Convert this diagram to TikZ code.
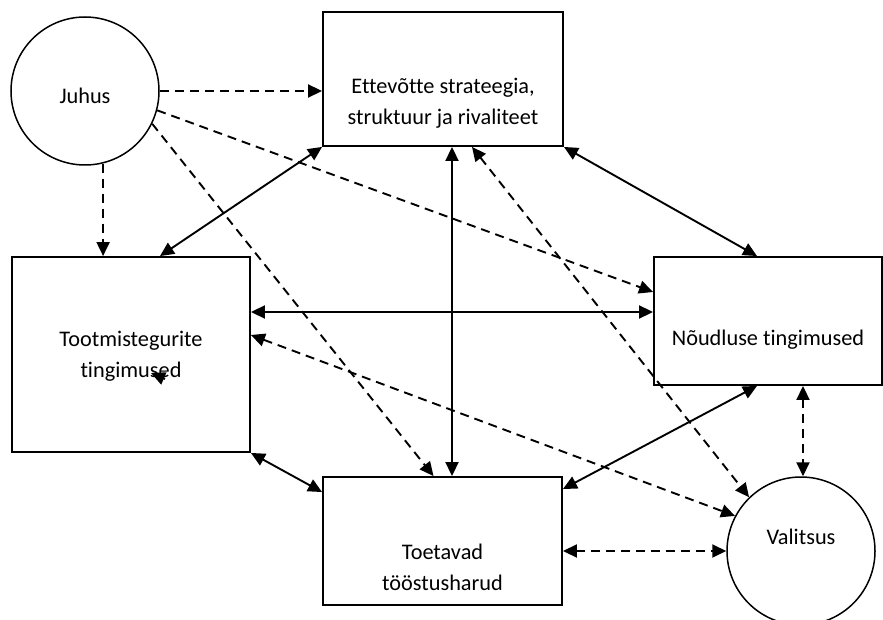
\documentclass[tikz,border=0pt]{standalone}
\usepackage{fontspec}
\setmainfont{Carlito}[Ligatures=NoCommon]
\usetikzlibrary{positioning, calc, arrows.meta}
\tikzset{factor/.style={draw, rectangle, line width=1.9pt, inner sep=0pt}}
\tikzset{force/.style={draw, circle, line width=1.5pt, minimum size=148pt, inner sep=0pt}}
\tikzset{lbl/.style={align=center, inner sep=0pt, font=\fontsize{22.3}{31}\selectfont}}
\tikzstyle{link}=[line width=1.9pt, {Triangle[length=14pt,width=13pt]}-{Triangle[length=14pt,width=13pt]}]
\tikzstyle{oneway}=[line width=1.9pt, -{Triangle[length=14pt,width=13pt]}]
\tikzstyle{chance}=[dash pattern=on 9pt off 6pt]

\begin{document}
\begin{tikzpicture}[x=1pt, y=-1pt]
  \useasboundingbox (0,0) rectangle (883,620);

  \node[factor, minimum width=240pt, minimum height=134pt] (ett)   at (443,79)    {};
  \node[factor, minimum width=238pt, minimum height=195pt] (tootm) at (131,354.5) {};
  \node[factor, minimum width=228pt, minimum height=128pt] (noud)  at (768,321)   {};
  \node[factor, minimum width=239pt, minimum height=128pt] (toet)  at (442.5,541) {};
  \node[force] (juhus) at (85,91)   {};
  \node[force] (valit) at (801,551) {};

  \node[lbl] (ettTxt)   at (443,103)   {Ettevõtte strateegia,\\struktuur ja rivaliteet};
  \node[lbl] (tootmTxt) at (131,356)   {Tootmistegurite\\tingimused};
  \node[lbl] (noudTxt)  at (768,340)   {Nõudluse tingimused};
  \node[lbl] (toetTxt)  at (442.5,567) {Toetavad\\tööstusharud};
  \node[lbl] (juhusTxt) at (85,96)     {Juhus};
  \node[lbl] (valitTxt) at (801,537)   {Valitsus};

  % juhus
  \draw[oneway, chance] (juhus.east) -- (juhus.east -| ett.west);
  \draw[oneway, chance] (juhus.-76) -- (juhus.-76 |- tootm.north);
  \draw[oneway, chance] (juhus.-15) -- ([yshift=29pt]noud.west);
  \draw[oneway, chance] (juhus.-26) -- ([xshift=-9pt]toet.north);

  % diamond
  \draw[link] (ett.south west) -- ([xshift=29pt]tootm.north);
  \draw[link] ([xshift=9pt]ett.south) -- ([xshift=9pt]ett.south |- toet.north);
  \draw[link] (ett.south east) -- ([xshift=-11pt]noud.north);
  \draw[link] ([yshift=42.5pt]tootm.east) -- ([yshift=42.5pt]tootm.east -| noud.west);
  \draw[link] (tootm.south east) -- ([yshift=-16pt]toet.north west);
  \draw[link] ([xshift=-11pt]noud.south) -- ([yshift=-13pt]toet.north east);

  % valitsus
  \draw[link, chance] ([xshift=35pt]noud.south) -- ([xshift=35pt]noud.south |- valit.north);
  \draw[link, chance] ([yshift=-10pt]toet.east) -- ([yshift=-10pt]toet.east -| valit.west);
  \draw[link, chance] ([yshift=19.5pt]tootm.east) -- (valit.152);
  \draw[link, chance] ([xshift=29pt]ett.south) -- (valit.134);

  \coordinate (stubA) at (165,379);
  \coordinate (stubB) at (151,373);
  \draw[oneway] (stubA) -- (stubB);
\end{tikzpicture}
\end{document}
